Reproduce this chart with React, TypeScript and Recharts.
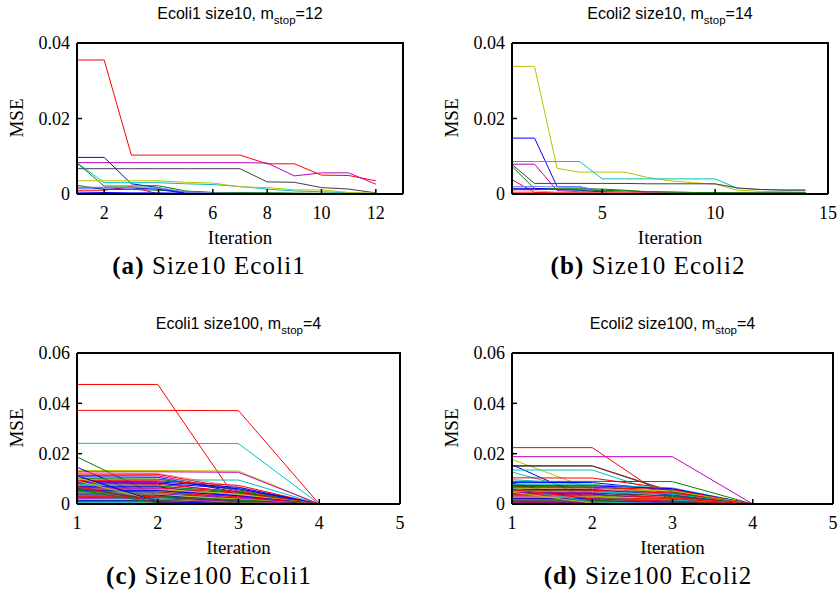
import { LineChart, Line, XAxis, YAxis } from 'recharts';

// MATLAB line colours
const B = '#0000ff';
const G = '#008000';
const R = '#ff0000';
const C = '#00bfbf';
const M = '#bf00bf';
const Y = '#bfbf00';
const K = '#404040';
const L = '#8080ff';
const P = '#ff8080';

// (a) Ecoli1 size10, iterations 1..12
const itersA = [1, 2, 3, 4, 5, 6, 7, 8, 9, 10, 11, 12];
const seriesA = [
  [0.0355, 0.0355, 0.0103, 0.0103, 0.0103, 0.0103, 0.0103, 0.0080, 0.0080, 0.0050, 0.0049, 0.0035],
  [0.0083, 0.0083, 0.0083, 0.0083, 0.0083, 0.0083, 0.0083, 0.0082, 0.0048, 0.0056, 0.0056, 0.0026],
  [0.0067, 0.0067, 0.0067, 0.0067, 0.0067, 0.0067, 0.0067, 0.0032, 0.0031, 0.0017, 0.0013, 0.0003],
  [0.0097, 0.0097, 0.0027, 0.0017, 0.0002, 0.0001, 0.0001, 0.0001, 0.0001, 0.0001, 0.0001, 0.0001],
  [0.0083, 0.0030, 0.0030, 0.0030, 0.0027, 0.0025, 0.0020, 0.0013, 0.0008, 0.0006, 0.0003, 0.0002],
  [0.0082, 0.0021, 0.0021, 0.0022, 0.0008, 0.0004, 0.0003, 0.0003, 0.0002, 0.0002, 0.0001, 0.0001],
  [0.0035, 0.0035, 0.0035, 0.0035, 0.0031, 0.0029, 0.0019, 0.0017, 0.0011, 0.0011, 0.0004, 0.0002],
  [0.0023, 0.0012, 0.0012, 0.0010, 0.0006, 0.0004, 0.0004, 0.0003, 0.0002, 0.0001, 0.0001, 0.0001],
  [0.0010, 0.0010, 0.0019, 0.0000, 0.0000, 0.0000, 0.0000, 0.0000, 0.0000, 0.0000, 0.0000, 0.0000],
  [0.0016, 0.0016, 0.0016, 0.0013, 0.0001, 0.0001, 0.0001, 0.0000, 0.0000, 0.0000, 0.0000, 0.0000],
  [0.0018, 0.0018, 0.0017, 0.0016, 0.0006, 0.0003, 0.0002, 0.0002, 0.0001, 0.0001, 0.0001, 0.0001],
  [0.0005, 0.0004, 0.0003, 0.0003, 0.0002, 0.0001, 0.0001, 0.0001, 0.0000, 0.0000, 0.0000, 0.0000],
];
const colorsA = [R, M, K, B, C, G, Y, G, R, B, L, B];

// (b) Ecoli2 size10, iterations 1..14
const itersB = [1, 2, 3, 4, 5, 6, 7, 8, 9, 10, 11, 12, 13, 14];
const seriesB = [
  [0.0338, 0.0338, 0.0068, 0.0058, 0.0058, 0.0058, 0.0044, 0.0035, 0.0030, 0.0026, 0.0010, 0.0007, 0.0006, 0.0005],
  [0.0148, 0.0148, 0.0019, 0.0019, 0.0006, 0.0004, 0.0004, 0.0003, 0.0003, 0.0003, 0.0002, 0.0002, 0.0002, 0.0002],
  [0.0086, 0.0086, 0.0086, 0.0086, 0.0040, 0.0040, 0.0040, 0.0040, 0.0040, 0.0040, 0.0015, 0.0012, 0.0011, 0.0011],
  [0.0079, 0.0079, 0.0009, 0.0006, 0.0005, 0.0004, 0.0004, 0.0004, 0.0004, 0.0003, 0.0003, 0.0003, 0.0003, 0.0003],
  [0.0078, 0.0028, 0.0028, 0.0028, 0.0028, 0.0028, 0.0027, 0.0027, 0.0027, 0.0027, 0.0016, 0.0012, 0.0010, 0.0010],
  [0.0073, 0.0014, 0.0014, 0.0014, 0.0013, 0.0010, 0.0006, 0.0005, 0.0004, 0.0004, 0.0003, 0.0003, 0.0003, 0.0003],
  [0.0038, 0.0004, 0.0003, 0.0003, 0.0003, 0.0002, 0.0002, 0.0002, 0.0002, 0.0002, 0.0002, 0.0002, 0.0002, 0.0002],
  [0.0020, 0.0020, 0.0019, 0.0019, 0.0008, 0.0005, 0.0004, 0.0004, 0.0003, 0.0003, 0.0003, 0.0003, 0.0002, 0.0002],
  [0.0015, 0.0015, 0.0012, 0.0010, 0.0005, 0.0004, 0.0003, 0.0003, 0.0002, 0.0002, 0.0002, 0.0002, 0.0002, 0.0002],
  [0.0008, 0.0008, 0.0005, 0.0005, 0.0004, 0.0004, 0.0003, 0.0003, 0.0003, 0.0002, 0.0002, 0.0002, 0.0002, 0.0002],
  [0.0012, 0.0012, 0.0012, 0.0011, 0.0010, 0.0008, 0.0006, 0.0005, 0.0004, 0.0004, 0.0003, 0.0003, 0.0003, 0.0003],
  [0.0003, 0.0003, 0.0002, 0.0002, 0.0002, 0.0002, 0.0002, 0.0001, 0.0001, 0.0001, 0.0001, 0.0001, 0.0001, 0.0001],
];
const colorsB = [Y, B, C, M, K, G, R, L, B, P, G, R];

// (c) Ecoli1 size100, iterations 1..4
const itersC = [1, 2, 3, 4];
const seriesC = [
  [0.0475, 0.0475, 0.0007, 0], [0.0372, 0.0372, 0.0371, 0], [0.0241, 0.0241, 0.0240, 0],
  [0.0133, 0.0133, 0.0131, 0], [0.0128, 0.0128, 0.0126, 0], [0.0187, 0.0032, 0.0004, 0],
  [0.0146, 0.0011, 0.0002, 0], [0.0124, 0.0121, 0.0068, 0], [0.0119, 0.0118, 0.0059, 0],
  [0.0113, 0.0112, 0.0052, 0], [0.0108, 0.0106, 0.0046, 0], [0.0096, 0.0096, 0.0095, 0],
  [0.0101, 0.0099, 0.0056, 0], [0.0093, 0.0092, 0.0074, 0], [0.0089, 0.0088, 0.0066, 0],
  [0.0086, 0.0085, 0.0041, 0], [0.0083, 0.0082, 0.0061, 0], [0.0104, 0.0021, 0.0009, 0],
  [0.0079, 0.0078, 0.0049, 0], [0.0077, 0.0074, 0.0036, 0], [0.0072, 0.0071, 0.0047, 0],
  [0.0069, 0.0068, 0.0031, 0], [0.0066, 0.0064, 0.0043, 0], [0.0062, 0.0061, 0.0027, 0],
  [0.0059, 0.0058, 0.0039, 0], [0.0057, 0.0055, 0.0021, 0], [0.0053, 0.0053, 0.0033, 0],
  [0.0051, 0.0049, 0.0017, 0], [0.0047, 0.0046, 0.0029, 0], [0.0044, 0.0044, 0.0013, 0],
  [0.0041, 0.0040, 0.0024, 0], [0.0038, 0.0037, 0.0019, 0], [0.0036, 0.0035, 0.0011, 0],
  [0.0032, 0.0031, 0.0016, 0], [0.0029, 0.0029, 0.0008, 0], [0.0026, 0.0025, 0.0012, 0],
  [0.0023, 0.0022, 0.0006, 0], [0.0021, 0.0019, 0.0009, 0], [0.0017, 0.0017, 0.0005, 0],
  [0.0014, 0.0013, 0.0004, 0], [0.0011, 0.0011, 0.0003, 0], [0.0008, 0.0008, 0.0002, 0],
  [0.0005, 0.0005, 0.0001, 0], [0.0092, 0.0012, 0.0003, 0], [0.0071, 0.0006, 0.0002, 0],
  [0.0056, 0.0004, 0.0001, 0], [0.0112, 0.0009, 0.0002, 0], [0.0063, 0.0015, 0.0003, 0],
];
const colorsC = [
  R, R, C, Y, M, G, B, P, R, M, B, C, G, R, B, M, B, Y, R, C, G, B, R, M,
  Y, K, B, G, R, C, M, Y, B, G, R, K, C, M, Y, B, G, R, C, Y, R, G, B, K,
];

// (d) Ecoli2 size100, iterations 1..4
const itersD = [1, 2, 3, 4];
const seriesD = [
  [0.0224, 0.0224, 0.0009, 0], [0.0188, 0.0188, 0.0188, 0], [0.0177, 0.0058, 0.0011, 0],
  [0.0153, 0.0152, 0.0049, 0], [0.0150, 0.0151, 0.0046, 0], [0.0156, 0.0014, 0.0004, 0],
  [0.0135, 0.0135, 0.0031, 0], [0.0127, 0.0041, 0.0008, 0], [0.0104, 0.0103, 0.0059, 0],
  [0.0090, 0.0090, 0.0089, 0], [0.0097, 0.0076, 0.0038, 0], [0.0086, 0.0085, 0.0054, 0],
  [0.0081, 0.0079, 0.0034, 0], [0.0083, 0.0012, 0.0003, 0], [0.0077, 0.0076, 0.0064, 0],
  [0.0073, 0.0072, 0.0061, 0], [0.0070, 0.0068, 0.0047, 0], [0.0067, 0.0066, 0.0057, 0],
  [0.0064, 0.0063, 0.0041, 0], [0.0061, 0.0059, 0.0052, 0], [0.0058, 0.0057, 0.0036, 0],
  [0.0055, 0.0054, 0.0044, 0], [0.0052, 0.0051, 0.0029, 0], [0.0049, 0.0048, 0.0039, 0],
  [0.0046, 0.0045, 0.0023, 0], [0.0043, 0.0042, 0.0033, 0], [0.0040, 0.0039, 0.0018, 0],
  [0.0037, 0.0036, 0.0026, 0], [0.0034, 0.0033, 0.0014, 0], [0.0031, 0.0030, 0.0021, 0],
  [0.0028, 0.0027, 0.0010, 0], [0.0025, 0.0024, 0.0016, 0], [0.0022, 0.0021, 0.0007, 0],
  [0.0019, 0.0018, 0.0011, 0], [0.0016, 0.0015, 0.0005, 0], [0.0013, 0.0012, 0.0004, 0],
  [0.0010, 0.0009, 0.0003, 0], [0.0007, 0.0006, 0.0002, 0], [0.0004, 0.0004, 0.0001, 0],
  [0.0062, 0.0008, 0.0002, 0], [0.0047, 0.0003, 0.0001, 0], [0.0058, 0.0020, 0.0021, 0],
];
const colorsD = [
  R, M, Y, R, K, B, C, C, R, G, C, B, Y, B, C, B, G, R, M, Y, B, R, G, C,
  M, K, B, R, G, Y, M, C, B, R, G, K, M, B, R, C, Y, R,
];

const serif = '"Liberation Serif", "Times New Roman", serif';
const sans = '"Liberation Sans", Arial, sans-serif';

interface PanelProps {
  left: number;
  top: number;
  plotLeft: number;
  plotRight: number;
  iterations: number[];
  series: number[][];
  colors: string[];
  xDomain: [number, number];
  xTicks: number[];
  yDomain: [number, number];
  yTicks: number[];
  title: string;
  stop: string;
  tag: string;
  caption: string;
  captionX: number;
}

const W = 419;
const H = 230;
const PLOT_TOP = 43;
const PLOT_BOTTOM = 194;

const fmtY = (v: number) => (v === 0 ? '0' : v.toFixed(2));

function Panel(p: PanelProps) {
  const data = p.iterations.map((it, i) => {
    const row: Record<string, number> = { it };
    p.series.forEach((s, k) => { row['s' + k] = s[i]; });
    return row;
  });
  const cx = (p.plotLeft + p.plotRight) / 2;
  const tickStyle = { fontFamily: serif, fontSize: 18, fill: '#000' };
  const frame = { stroke: '#000', strokeWidth: 2 };
  const tickMark = { stroke: '#000', strokeWidth: 1.5 };

  return (
    <div style={{ position: 'absolute', left: p.left, top: p.top, width: W, height: 300 }}>
      <div style={{ position: 'absolute', left: 0, top: 0 }}>
        <LineChart
          width={W}
          height={H}
          data={data}
          margin={{ top: PLOT_TOP, left: p.plotLeft - 50, right: W - p.plotRight, bottom: H - PLOT_BOTTOM - 30 }}
        >
          <XAxis dataKey="it" type="number" domain={p.xDomain} ticks={p.xTicks} allowDataOverflow interval={0}
            height={30} tickSize={-5} tickMargin={17} tick={tickStyle}
            axisLine={frame} tickLine={tickMark} />
          <YAxis type="number" domain={p.yDomain} ticks={p.yTicks} allowDataOverflow interval={0}
            width={50} tickSize={-5} tickMargin={12} tick={tickStyle} tickFormatter={fmtY}
            axisLine={frame} tickLine={tickMark} />
          {p.series.map((_, k) => (
            <Line
              key={k}
              type="linear"
              dataKey={'s' + k}
              stroke={p.colors[k % p.colors.length]}
              strokeWidth={1}
              dot={false}
              activeDot={false}
              isAnimationActive={false}
            />
          ))}
        </LineChart>
      </div>
      {/* same axes turned half a circle: gives the inward ticks of the top and right frame edges */}
      <div style={{ position: 'absolute', left: 0, top: 0, width: W, height: H, transform: 'rotate(180deg)', pointerEvents: 'none' }}>
        <LineChart
          width={W}
          height={H}
          data={data}
          margin={{ top: H - PLOT_BOTTOM, left: W - p.plotRight - 50, right: p.plotLeft, bottom: PLOT_TOP - 30 }}
        >
          <XAxis dataKey="it" type="number" domain={p.xDomain} ticks={p.xTicks} allowDataOverflow interval={0} reversed
            height={30} tickSize={-5} tick={false} axisLine={false} tickLine={tickMark} />
          <YAxis type="number" domain={p.yDomain} ticks={p.yTicks} allowDataOverflow interval={0} reversed
            width={50} tickSize={-5} tick={false} axisLine={false} tickLine={tickMark} />
          <Line dataKey="s0" stroke="none" dot={false} activeDot={false} isAnimationActive={false} />
        </LineChart>
      </div>
      {/* top and right edges of the axes box */}
      <div style={{
        position: 'absolute', left: p.plotLeft, top: PLOT_TOP - 1, width: p.plotRight - p.plotLeft + 1,
        height: PLOT_BOTTOM - PLOT_TOP + 1, borderTop: '2px solid #000', borderRight: '2px solid #000',
        boxSizing: 'border-box', pointerEvents: 'none',
      }} />
      <div style={{ position: 'absolute', left: cx - 150, width: 300, top: 5, textAlign: 'center', fontFamily: sans, fontSize: 16, lineHeight: '18px', whiteSpace: 'nowrap' }}>
        {p.title}, m<span style={{ fontSize: 11.5, position: 'relative', top: 5 }}>stop</span>={p.stop}
      </div>
      <div style={{ position: 'absolute', left: p.plotLeft - 60 - 40, top: 118 - 12, width: 80, height: 24, textAlign: 'center', fontFamily: serif, fontSize: 19, lineHeight: '24px', transform: 'rotate(-90deg)' }}>
        MSE
      </div>
      <div style={{ position: 'absolute', left: cx - 60, width: 120, top: 226, textAlign: 'center', fontFamily: serif, fontSize: 19, lineHeight: '24px' }}>
        Iteration
      </div>
      <div style={{ position: 'absolute', left: p.captionX - 160, width: 320, top: 251, textAlign: 'center', fontFamily: serif, fontSize: 25, lineHeight: '30px', letterSpacing: 1.1, whiteSpace: 'nowrap' }}>
        <b>{p.tag}</b> {p.caption}
      </div>
    </div>
  );
}

export default function App() {
  return (
    <div style={{ position: 'absolute', left: 0, top: 0, width: 838, height: 593, background: '#fff', overflow: 'hidden' }}>
      <Panel left={0} top={0} plotLeft={77} plotRight={403} iterations={itersA} series={seriesA} colors={colorsA}
        xDomain={[1, 13]} xTicks={[2, 4, 6, 8, 10, 12]} yDomain={[0, 0.04]} yTicks={[0, 0.02, 0.04]}
        title="Ecoli1 size10" stop="12" tag="(a)" caption="Size10 Ecoli1" captionX={209} />
      <Panel left={419} top={0} plotLeft={93} plotRight={409} iterations={itersB} series={seriesB} colors={colorsB}
        xDomain={[1, 15]} xTicks={[5, 10, 15]} yDomain={[0, 0.04]} yTicks={[0, 0.02, 0.04]}
        title="Ecoli2 size10" stop="14" tag="(b)" caption="Size10 Ecoli2" captionX={229} />
      <Panel left={0} top={310} plotLeft={77} plotRight={400} iterations={itersC} series={seriesC} colors={colorsC}
        xDomain={[1, 5]} xTicks={[1, 2, 3, 4, 5]} yDomain={[0, 0.06]} yTicks={[0, 0.02, 0.04, 0.06]}
        title="Ecoli1 size100" stop="4" tag="(c)" caption="Size100 Ecoli1" captionX={209} />
      <Panel left={419} top={310} plotLeft={93} plotRight={414} iterations={itersD} series={seriesD} colors={colorsD}
        xDomain={[1, 5]} xTicks={[1, 2, 3, 4, 5]} yDomain={[0, 0.06]} yTicks={[0, 0.02, 0.04, 0.06]}
        title="Ecoli2 size100" stop="4" tag="(d)" caption="Size100 Ecoli2" captionX={229} />
    </div>
  );
}
